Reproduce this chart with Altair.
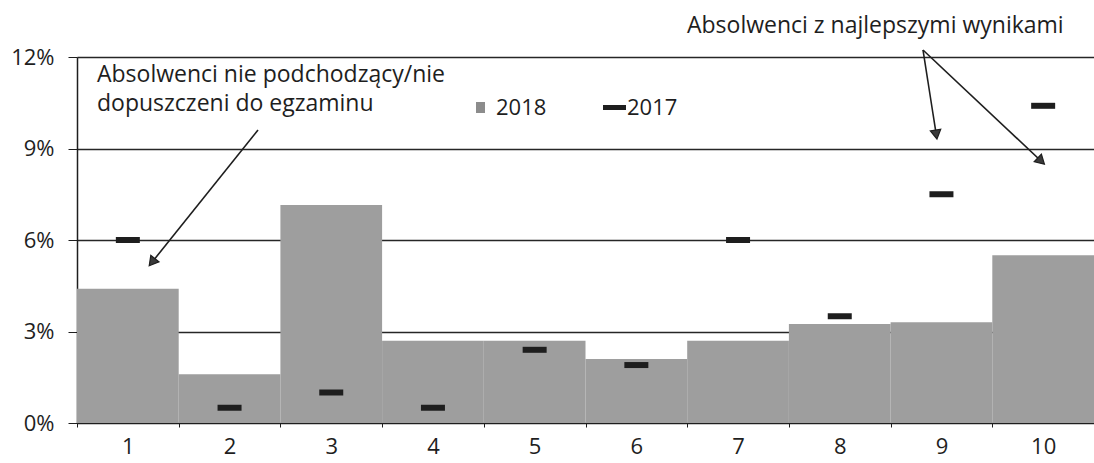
import altair as alt
import pandas as pd

# Decile groups of graduates and their shares (in %)
groups = ["1", "2", "3", "4", "5", "6", "7", "8", "9", "10"]
share_2018 = [4.4, 1.6, 7.15, 2.7, 2.7, 2.1, 2.7, 3.25, 3.3, 5.5]
share_2017 = [6.0, 0.5, 1.0, 0.5, 2.4, 1.9, 6.0, 3.5, 7.5, 10.4]

y_ticks = [0, 3, 6, 9, 12]

FONT = "Open Sans"
INK = "#1e1e1e"
BAR_GRAY = "#9e9e9e"

df = pd.DataFrame({"grupa": groups, "r2018": share_2018, "r2017": share_2017})

x_enc = alt.X(
    "grupa:N",
    sort=groups,
    title=None,
    scale=alt.Scale(paddingInner=0, paddingOuter=0),
    axis=alt.Axis(
        labelAngle=0,
        labelFontSize=22,
        labelFont=FONT,
        labelColor=INK,
        labelPadding=9,
        tickBand="extent",
        tickSize=4,
        tickColor=INK,
        domainColor=INK,
        grid=False,
    ),
)

y_scale = alt.Scale(domain=[0, 12], nice=False)

bars = alt.Chart(df).mark_bar(color=BAR_GRAY).encode(
    x=x_enc,
    y=alt.Y(
        "r2018:Q",
        title=None,
        scale=y_scale,
        axis=alt.Axis(
            values=y_ticks,
            labelExpr="datum.value + '%'",
            labelFontSize=22,
            labelFont=FONT,
            labelColor=INK,
            labelPadding=14,
            tickSize=9,
            tickColor=INK,
            domainColor=INK,
            domainWidth=1.5,
            gridColor="#262626",
            gridWidth=1.6,
        ),
    ),
)

ticks = alt.Chart(df).mark_tick(
    color=INK, size=24, thickness=6, orient="horizontal", opacity=1
).encode(
    x=alt.X("grupa:N", sort=groups),
    y=alt.Y("r2017:Q", scale=y_scale),
)

# Legend drawn inside the plot area
legend_2018_box = alt.Chart(df.head(1)).mark_rect(color="#8c8c8c").encode(
    x=alt.value(399), x2=alt.value(408), y=alt.value(45), y2=alt.value(56)
)
legend_2017_dash = alt.Chart(df.head(1)).mark_rect(color=INK).encode(
    x=alt.value(526), x2=alt.value(549), y=alt.value(48), y2=alt.value(53)
)
legend_text = alt.Chart(
    pd.DataFrame({"t": ["2018", "2017"], "px": [419, 550]})
).mark_text(
    align="left", baseline="middle", fontSize=22, font=FONT, color=INK
).encode(
    x=alt.X("px:Q", scale=None), y=alt.value(51), text="t:N"
)

# Annotation texts
notes = pd.DataFrame({
    "t": ["Absolwenci nie podchodzący/nie", "dopuszczeni do egzaminu",
          "Absolwenci z najlepszymi wynikami"],
    "px": [20, 20, 610],
    "py": [18, 47, -31],
})
note_text = alt.Chart(notes).mark_text(
    align="left", baseline="middle", fontSize=23, font=FONT, color=INK
).encode(
    x=alt.X("px:Q", scale=None), y=alt.Y("py:Q", scale=None), text="t:N"
)

# Arrows: shaft plus a triangular head at the end point
arrows = pd.DataFrame({
    "x0": [181, 846, 846],
    "y0": [73, -7, -7],
    "x1": [76, 859, 963],
    "y1": [204, 76, 103],
    "ang": [218.7, 171.0, 133.3],
})
shafts = alt.Chart(arrows).mark_rule(color=INK, strokeWidth=1.6).encode(
    x=alt.X("x0:Q", scale=None),
    y=alt.Y("y0:Q", scale=None),
    x2="x1:Q",
    y2="y1:Q",
)
heads = alt.Chart(arrows).mark_point(
    shape="triangle", filled=True, size=110, color="#3a3a3a",
    stroke=INK, strokeWidth=1.2, opacity=1
).encode(
    x=alt.X("x1:Q", scale=None),
    y=alt.Y("y1:Q", scale=None),
    angle=alt.Angle("ang:Q", scale=None),
)

chart = (
    alt.layer(bars, ticks, legend_2018_box, legend_2017_dash, legend_text,
              note_text, shafts, heads)
    .properties(
        width=1017,
        height=366,
        autosize=alt.AutoSizeParams(type="none"),
        padding={"left": 77, "top": 57, "right": 0, "bottom": 40},
    )
    .configure_view(stroke=None)
    .configure(background="white")
)

chart.save("out.html", embed_options={"renderer": "svg", "actions": False})
